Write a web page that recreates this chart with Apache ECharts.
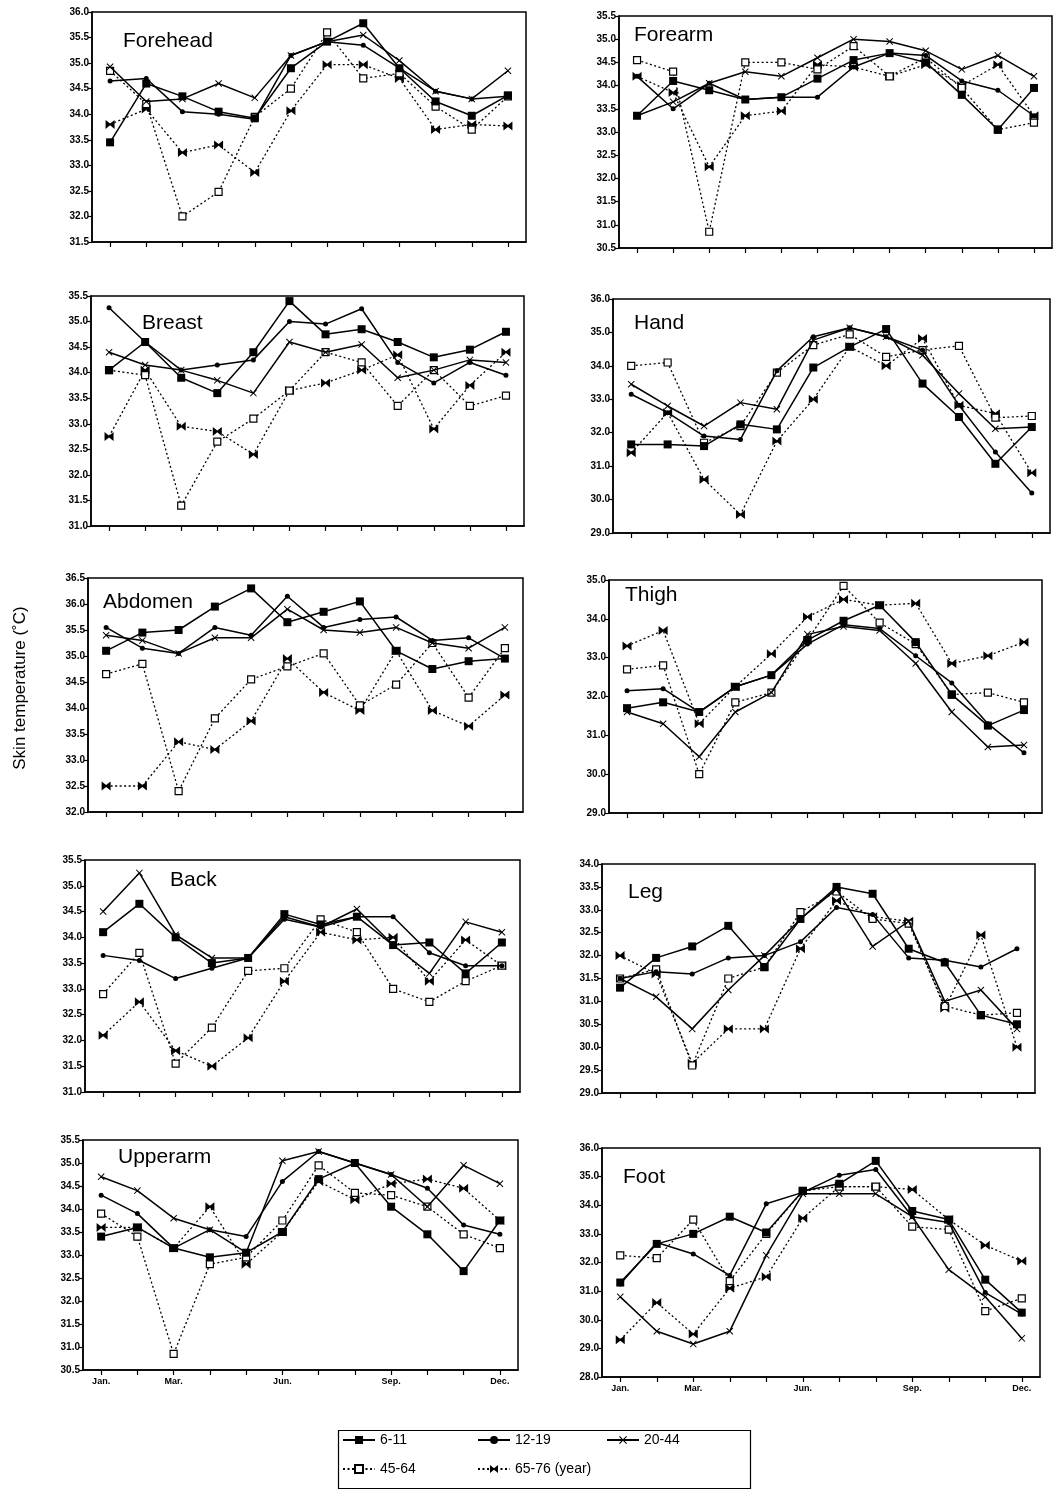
<!DOCTYPE html>
<html>
<head>
<meta charset="utf-8">
<script src="https://cdn.jsdelivr.net/npm/echarts@6/dist/echarts.min.js"></script>
<style>
html,body{margin:0;padding:0;background:#fff;}
#chart{width:1056px;height:1496px;}
</style>
</head>
<body>
<div id="chart"></div>
<script>
// ---------- DATA ----------
const months = ['Jan.','Feb.','Mar.','Apr.','May','Jun.','Jul.','Aug.','Sep.','Oct.','Nov.','Dec.'];
const groups = ['6-11','12-19','20-44','45-64','65-76'];
const shownMonths = ['Jan.','Mar.','Jun.','Sep.','Dec.'];

const forehead_6_11  = [33.45,34.6,34.35,34.05,33.92,34.9,35.42,35.78,34.9,34.25,33.97,34.37];
const forehead_12_19 = [34.65,34.7,34.05,34.0,33.9,35.15,35.42,35.35,34.9,34.45,34.3,34.35];
const forehead_20_44 = [34.93,34.25,34.3,34.6,34.32,35.15,35.42,35.55,35.05,34.45,34.3,34.85];
const forehead_45_64 = [34.85,34.2,32.0,32.48,33.95,34.5,35.6,34.7,34.8,34.15,33.7,34.35];
const forehead_65_76 = [33.8,34.1,33.25,33.4,32.86,34.07,34.97,34.97,34.7,33.7,33.8,33.77];

const forearm_6_11  = [33.35,34.1,33.9,33.7,33.75,34.15,34.55,34.7,34.5,33.8,33.05,33.95];
const forearm_12_19 = [34.2,33.5,34.05,33.7,33.75,33.75,34.4,34.7,34.65,34.1,33.9,33.35];
const forearm_20_44 = [33.35,33.65,34.05,34.3,34.2,34.6,35.0,34.95,34.75,34.35,34.65,34.2];
const forearm_45_64 = [34.55,34.3,30.85,34.5,34.5,34.35,34.85,34.2,34.6,33.95,33.05,33.2];
const forearm_65_76 = [34.2,33.85,32.25,33.35,33.45,34.45,34.4,34.2,34.45,34.0,34.45,33.35];

const breast_6_11  = [34.05,34.6,33.9,33.6,34.4,35.4,34.75,34.85,34.6,34.3,34.45,34.8];
const breast_12_19 = [35.27,34.6,34.05,34.15,34.25,35.0,34.95,35.25,34.2,33.8,34.2,33.95];
const breast_20_44 = [34.4,34.15,34.05,33.85,33.6,34.6,34.4,34.55,33.9,34.05,34.25,34.2];
const breast_45_64 = [34.05,33.95,31.4,32.65,33.1,33.65,34.4,34.2,33.35,34.05,33.35,33.55];
const breast_65_76 = [32.75,34.05,32.95,32.85,32.4,33.65,33.8,34.05,34.35,32.9,33.75,34.4];

const hand_6_11  = [31.65,31.65,31.6,32.25,32.1,33.95,34.57,35.1,33.47,32.47,31.07,32.17];
const hand_12_19 = [33.15,32.6,31.9,31.8,33.85,34.87,35.14,34.87,34.47,32.82,31.42,30.2];
const hand_20_44 = [33.45,32.8,32.2,32.9,32.7,34.77,35.14,34.87,34.32,33.17,32.12,32.17];
const hand_45_64 = [34.0,34.1,31.7,32.2,33.8,34.62,34.94,34.27,34.47,34.6,32.45,32.5];
const hand_65_76 = [31.4,32.6,30.6,29.55,31.75,33.0,34.57,34.0,34.82,32.82,32.57,30.8];

const abdomen_6_11  = [35.1,35.45,35.5,35.95,36.3,35.65,35.85,36.05,35.1,34.75,34.9,34.95];
const abdomen_12_19 = [35.55,35.15,35.05,35.55,35.4,36.15,35.55,35.7,35.75,35.3,35.35,34.95];
const abdomen_20_44 = [35.4,35.3,35.05,35.35,35.35,35.9,35.5,35.45,35.55,35.25,35.15,35.55];
const abdomen_45_64 = [34.65,34.85,32.4,33.8,34.55,34.8,35.05,34.05,34.45,35.25,34.2,35.15];
const abdomen_65_76 = [32.5,32.5,33.35,33.2,33.75,34.95,34.3,33.95,35.1,33.95,33.65,34.25];

const thigh_6_11  = [31.7,31.85,31.6,32.25,32.55,33.45,33.95,34.35,33.4,32.05,31.25,31.65];
const thigh_12_19 = [32.15,32.2,31.6,32.25,32.55,33.35,33.85,33.75,33.05,32.35,31.3,30.55];
const thigh_20_44 = [31.6,31.3,30.45,31.6,32.1,33.6,33.8,33.7,32.85,31.6,30.7,30.75];
const thigh_45_64 = [32.7,32.8,30.0,31.85,32.1,33.45,34.85,33.9,33.35,32.05,32.1,31.85];
const thigh_65_76 = [33.3,33.7,31.3,32.25,33.1,34.05,34.5,34.35,34.4,32.85,33.05,33.4];

const back_6_11  = [34.1,34.65,34.0,33.5,33.6,34.45,34.25,34.4,33.85,33.9,33.3,33.9];
const back_12_19 = [33.65,33.55,33.2,33.4,33.6,34.35,34.2,34.4,34.4,33.7,33.45,33.45];
const back_20_44 = [34.5,35.25,34.05,33.6,33.6,34.4,34.2,34.55,33.85,33.3,34.3,34.1];
const back_45_64 = [32.9,33.7,31.55,32.25,33.35,33.4,34.35,34.1,33.0,32.75,33.15,33.45];
const back_65_76 = [32.1,32.75,31.8,31.5,32.05,33.15,34.1,33.95,34.0,33.15,33.95,33.45];

const leg_6_11  = [31.3,31.95,32.2,32.65,31.75,32.8,33.5,33.35,32.15,31.85,30.7,30.5];
const leg_12_19 = [31.5,31.65,31.6,31.95,32.0,32.3,33.05,32.9,31.95,31.9,31.75,32.15];
const leg_20_44 = [31.5,31.1,30.4,31.25,32.0,32.8,33.45,32.2,32.75,31.0,31.25,30.4];
const leg_45_64 = [31.5,31.7,29.6,31.5,31.75,32.95,33.4,32.8,32.7,30.9,30.7,30.75];
const leg_65_76 = [32.0,31.6,29.65,30.4,30.4,32.15,33.2,32.85,32.75,30.85,32.45,30.0];

const upperarm_6_11  = [33.4,33.6,33.15,32.95,33.05,33.5,34.65,35.0,34.05,33.45,32.65,33.75];
const upperarm_12_19 = [34.3,33.9,33.15,33.55,33.4,34.6,35.25,35.0,34.75,34.45,33.65,33.45];
const upperarm_20_44 = [34.7,34.4,33.8,33.55,33.05,35.05,35.25,35.0,34.75,34.05,34.95,34.55];
const upperarm_45_64 = [33.9,33.4,30.85,32.8,32.95,33.75,34.95,34.35,34.3,34.05,33.45,33.15];
const upperarm_65_76 = [33.6,33.6,33.15,34.05,32.8,33.5,34.6,34.2,34.55,34.65,34.45,33.75];

const foot_6_11  = [31.3,32.65,33.0,33.6,33.05,34.5,34.75,35.55,33.8,33.5,31.4,30.25];
const foot_12_19 = [31.25,32.7,32.3,31.55,34.05,34.45,35.05,35.25,33.6,33.4,30.95,30.2];
const foot_20_44 = [30.8,29.6,29.15,29.6,32.25,34.4,34.4,34.4,33.6,31.75,30.8,29.35];
const foot_45_64 = [32.25,32.15,33.5,31.35,33.0,34.5,34.65,34.65,33.25,33.15,30.3,30.75];
const foot_65_76 = [29.3,30.6,29.5,31.1,31.5,33.55,34.65,34.65,34.55,33.5,32.6,32.05];

// axis ranges [min, max, interval]
const forehead_range = [31.5, 36.0, 0.5];
const forearm_range  = [30.5, 35.5, 0.5];
const breast_range   = [31.0, 35.5, 0.5];
const hand_range     = [29.0, 36.0, 1.0];
const abdomen_range  = [32.0, 36.5, 0.5];
const thigh_range    = [29.0, 35.0, 1.0];
const back_range     = [31.0, 35.5, 0.5];
const leg_range      = [29.0, 34.0, 0.5];
const upperarm_range = [30.5, 35.5, 0.5];
const foot_range     = [28.0, 36.0, 1.0];

// ---------- PANELS ----------
const panels = [
  {name:'Forehead', data:[forehead_6_11,forehead_12_19,forehead_20_44,forehead_45_64,forehead_65_76], range:forehead_range},
  {name:'Forearm',  data:[forearm_6_11,forearm_12_19,forearm_20_44,forearm_45_64,forearm_65_76], range:forearm_range},
  {name:'Breast',   data:[breast_6_11,breast_12_19,breast_20_44,breast_45_64,breast_65_76], range:breast_range},
  {name:'Hand',     data:[hand_6_11,hand_12_19,hand_20_44,hand_45_64,hand_65_76], range:hand_range},
  {name:'Abdomen',  data:[abdomen_6_11,abdomen_12_19,abdomen_20_44,abdomen_45_64,abdomen_65_76], range:abdomen_range},
  {name:'Thigh',    data:[thigh_6_11,thigh_12_19,thigh_20_44,thigh_45_64,thigh_65_76], range:thigh_range},
  {name:'Back',     data:[back_6_11,back_12_19,back_20_44,back_45_64,back_65_76], range:back_range},
  {name:'Leg',      data:[leg_6_11,leg_12_19,leg_20_44,leg_45_64,leg_65_76], range:leg_range},
  {name:'Upperarm', data:[upperarm_6_11,upperarm_12_19,upperarm_20_44,upperarm_45_64,upperarm_65_76], range:upperarm_range},
  {name:'Foot',     data:[foot_6_11,foot_12_19,foot_20_44,foot_45_64,foot_65_76], range:foot_range}
];

// layout: [left, top, width, height] of each plot box, and title position
const layout = [
  {grid:[92,12,434,230],  title:[123,31],   months:false},
  {grid:[619,16,433,232], title:[634,25],   months:false},
  {grid:[91,296,433,230], title:[142,313],  months:false},
  {grid:[613,299,437,234],title:[634,313],  months:false},
  {grid:[88,578,435,234], title:[103,592],  months:false},
  {grid:[609,580,433,233],title:[625,585],  months:false},
  {grid:[85,860,435,232], title:[170,870],  months:false},
  {grid:[602,864,433,229],title:[628,882],  months:false},
  {grid:[83,1140,435,230],title:[118,1147], months:true},
  {grid:[602,1148,438,229],title:[623,1167],months:true}
];

const asteriskPath = 'path://M1,0 L5,4 L9,0 L10,1 L6,5 L10,9 L9,10 L5,6 L1,10 L0,9 L4,5 L0,1 Z';
const bowtiePath = 'path://M0,0 L5,4 L10,0 L10,10 L5,6 L0,10 Z';
const seriesStyle = [
  {symbol:'rect', size:8, fill:'#000', line:'solid', width:1.5},
  {symbol:'circle', size:5, fill:'#000', line:'solid', width:1.5},
  {symbol:asteriskPath, size:7, fill:'#000', line:'solid', width:1.5},
  {symbol:'rect', size:7, fill:'#fff', line:[2,2.5], width:1.3},
  {symbol:bowtiePath, size:9, fill:'#000', line:[2,2.5], width:1.3}
];

const fontAxis = '"Liberation Sans Narrow","Liberation Sans",Arial,sans-serif';
const fontMain = '"Liberation Sans",Arial,Helvetica,sans-serif';

const grids = [], xAxes = [], yAxes = [], series = [], titles = [];
panels.forEach((p, i) => {
  const L = layout[i];
  grids.push({left:L.grid[0], top:L.grid[1], width:L.grid[2], height:L.grid[3],
    show:true, borderColor:'#000', borderWidth:1.5, backgroundColor:'#fff'});
  xAxes.push({
    type:'category', gridIndex:i, data:months, boundaryGap:true,
    axisLine:{show:true, lineStyle:{color:'#000', width:1.5}},
    axisTick:{show:true, alignWithLabel:true, interval:0, length:5, lineStyle:{color:'#000', width:1.2}},
    axisLabel:{show:L.months, interval:0, margin:7,
      formatter:(v)=> shownMonths.includes(v) ? v : '',
      fontSize:9, fontWeight:'bold', color:'#000', fontFamily:fontAxis},
    splitLine:{show:false}
  });
  yAxes.push({
    type:'value', gridIndex:i, min:p.range[0], max:p.range[1], interval:p.range[2],
    axisLine:{show:true, lineStyle:{color:'#000', width:1.5}},
    axisTick:{show:true, length:4, lineStyle:{color:'#000', width:1.2}},
    axisLabel:{formatter:(v)=>v.toFixed(1), fontSize:10, fontWeight:'bold', color:'#000',
      margin:3, fontFamily:fontAxis},
    splitLine:{show:false}
  });
  titles.push({text:p.name, left:L.title[0], top:L.title[1], padding:0,
    textStyle:{fontSize:21, fontWeight:'normal', color:'#000', fontFamily:fontMain}});
  p.data.forEach((arr, k) => {
    const s = seriesStyle[k];
    series.push({
      name:groups[k], type:'line', xAxisIndex:i, yAxisIndex:i, data:arr,
      symbol:s.symbol, symbolSize:s.size, showSymbol:true,
      lineStyle:{color:'#000', width:s.width, type:s.line},
      itemStyle:{color:s.fill, borderColor:'#000', borderWidth: k===3 ? 1.2 : 0},
      z: 10 - k,
      animation:false
    });
  });
});

// legend: one component per item
const legendPos = [
  {left:342, top:1433},
  {left:477, top:1433},
  {left:606, top:1433},
  {left:342, top:1462},
  {left:477, top:1462}
];
const legends = groups.map((g, k) => ({
  data:[g], left:legendPos[k].left, top:legendPos[k].top, padding:0,
  itemWidth:32, itemHeight:10, itemGap:6,
  formatter:(n)=> n==='65-76' ? '65-76 (year)' : n,
  textStyle:{fontSize:14, color:'#000', fontFamily:fontMain},
  selectedMode:false
}));

const chart = echarts.init(document.getElementById('chart'), null, {renderer:'canvas'});
chart.setOption({
  backgroundColor:'#fff',
  animation:false,
  title:titles,
  legend:legends,
  grid:grids,
  xAxis:xAxes,
  yAxis:yAxes,
  series:series,
  graphic:[
    {type:'rect', left:336, top:1428, shape:{width:412, height:58},
      style:{fill:'none', stroke:'#000', lineWidth:1.2}},
    {type:'text', x:20, y:688, rotation:Math.PI/2,
      style:{text:'Skin temperature (˚C)', fontSize:17, fill:'#000',
        font:'17px "Liberation Sans", Arial, sans-serif', textAlign:'center', textVerticalAlign:'middle'}}
  ]
});
</script>
</body>
</html>
